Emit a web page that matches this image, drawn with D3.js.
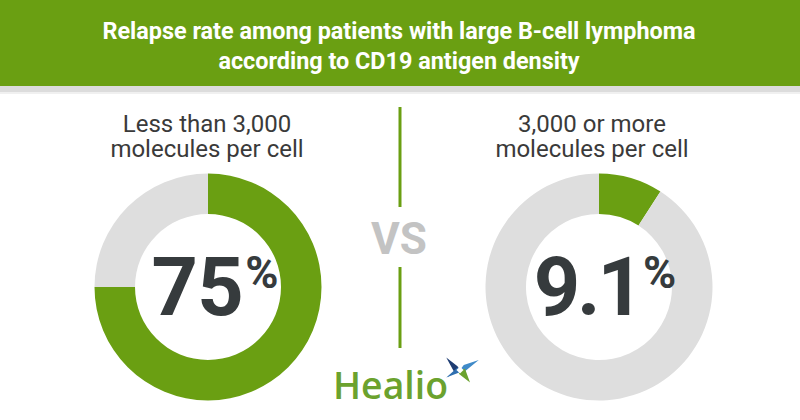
<!DOCTYPE html>
<html><head><meta charset="utf-8">
<script src="https://cdn.jsdelivr.net/npm/d3@7"></script>
<style>body{margin:0;background:#fff}svg{display:block}</style>
</head><body>
<svg id="c" width="800" height="420"></svg>
<script>
const titleLines = ["Relapse rate among patients with large B-cell lymphoma", "according to CD19 antigen density"];
const groupLabels = [["Less than 3,000", "molecules per cell"], ["3,000 or more", "molecules per cell"]];
const relapseRates = [75, 9.1];
const valueLabels = ["75", "9.1"];
const vsLabel = "VS";
const brand = "Healio";

const W = 800, H = 420;
const green = "#6a9f12", grey = "#dedede", dark = "#363b3d";
const svg = d3.select("#c");

// header
svg.append("rect").attr("x",0).attr("y",0).attr("width",W).attr("height",86).attr("fill",green);
svg.append("rect").attr("x",0).attr("y",86).attr("width",W).attr("height",6).attr("fill","#dcdcdc");
svg.append("rect").attr("x",0).attr("y",92).attr("width",W).attr("height",2).attr("fill","#f0f0f0");

const tl = svg.selectAll("text.title").data(titleLines).join("text")
  .attr("class","title").attr("x",399).attr("y",(d,i)=>39+i*29.5)
  .attr("text-anchor","middle").attr("fill","#fff")
  .attr("font-family","Roboto").attr("font-weight",700).attr("font-size",24)
  .text(d=>d);
const nat0 = tl.nodes()[0].getComputedTextLength();
const ratio = 593/nat0;
tl.each(function(){ const n=this.getComputedTextLength(); d3.select(this).attr("textLength",n*ratio).attr("lengthAdjust","spacingAndGlyphs"); });

// panels
const xPos = d3.scalePoint().domain(d3.range(relapseRates.length)).range([208,599]);
const cy = 287;
const pie = d3.pie().sort(null).value(d=>d);
const arc = d3.arc().innerRadius(73).outerRadius(113.5);

relapseRates.forEach((rate,i)=>{
  const cx = xPos(i);
  const g = svg.append("g").attr("transform",`translate(${cx},${cy})`);
  g.selectAll("path").data(pie([rate,100-rate])).join("path")
    .attr("d",arc).attr("fill",(d,j)=>j===0?green:grey);

  svg.append("g").selectAll("text").data(groupLabels[i]).join("text")
    .attr("x",cx - 1 - (i===1?6:0)).attr("y",(d,j)=>131.5+j*25.5)
    .attr("text-anchor","middle").attr("fill","#3a3a3a")
    .attr("font-family","Roboto").attr("font-size",24).text(d=>d);

  const vt = svg.append("text").attr("y",cy+28)
    .attr("font-family","Roboto").attr("font-weight",700).attr("fill",dark);
  vt.append("tspan").attr("font-size",81)
    .attr("letter-spacing", i===1 ? -3 : -0.5).text(valueLabels[i]);
  vt.append("tspan").attr("font-size",45).attr("dx", 2).attr("dy",-27).text("%");
  const tw = vt.node().getComputedTextLength();
  vt.attr("x", cx + 6 - tw/2 - (i===1?1:0));
});

// VS divider
svg.append("line").attr("x1",400).attr("x2",400).attr("y1",107).attr("y2",207).attr("stroke",green).attr("stroke-width",3);
svg.append("line").attr("x1",400).attr("x2",400).attr("y1",267).attr("y2",348).attr("stroke",green).attr("stroke-width",3);
svg.append("text").attr("x",399).attr("y",254).attr("text-anchor","middle")
  .attr("font-family","Roboto").attr("font-weight",700).attr("font-size",44)
  .attr("fill","#c3c3c3").text(vsLabel);

// logo
svg.append("text").attr("x",333).attr("y",399).attr("font-family","Open Sans").attr("font-weight",600).attr("font-size",37)
  .attr("fill","#6ba22e").attr("textLength",115).attr("lengthAdjust","spacingAndGlyphs").text(brand);
const sx=460, sy=370;
const star = svg.append("g").attr("transform",`translate(${sx},${sy}) scale(1.25)`);
star.append("path").attr("d","M0,0 L-11,-10 L-2,-3 Z M0,0 L-11,-10 L-5,1 Z").attr("fill","#1f3d73");
star.append("path").attr("d","M0,0 L15,-8 L3,-4 Z M0,0 L15,-8 L4,1 Z").attr("fill","#3f8ac8");
star.append("path").attr("d","M-2,-2 L-11,6 L2,1 Z M-2,-2 L-10,6 L-4,2 Z").attr("fill","#2e6fb0");
star.append("path").attr("d","M1,0 L8,10 L4,-1 Z M1,0 L8,10 L-1,3 Z").attr("fill","#6ba22e");
star.append("path").attr("d","M-2,-2 L2,-2 L2,2 L-2,2 Z").attr("fill","#ffffff").attr("transform","rotate(45)");
</script>
</body></html>
